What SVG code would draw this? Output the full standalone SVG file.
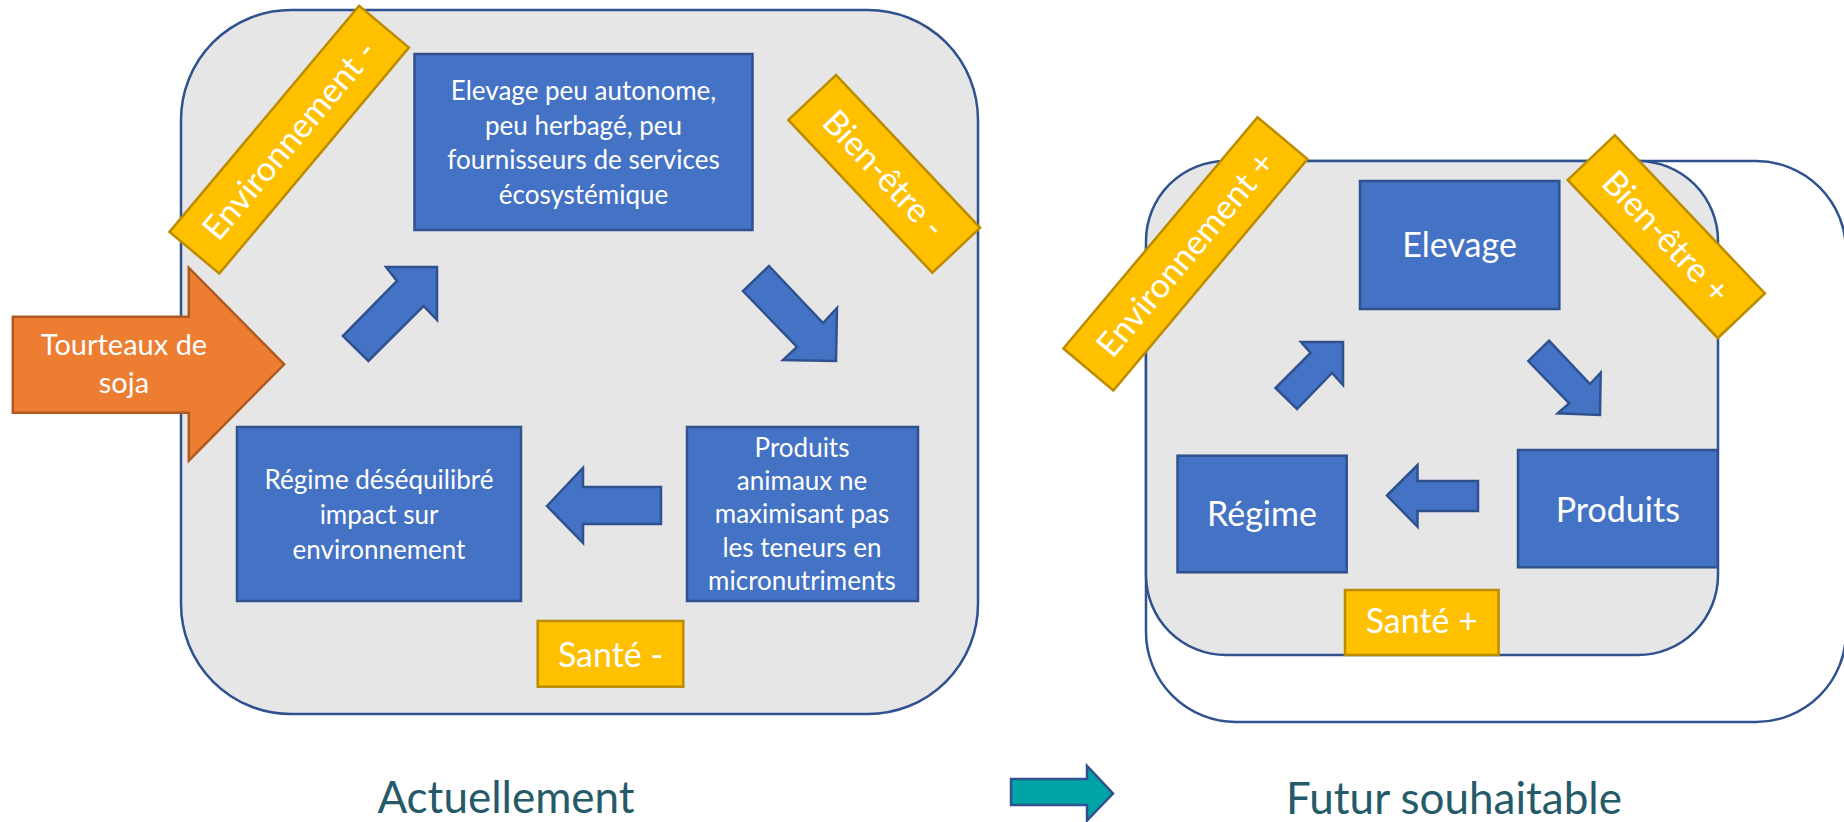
<svg xmlns="http://www.w3.org/2000/svg" width="1844" height="822" viewBox="0 0 1844 822">
<style>
.bg{fill:#E7E6E6;stroke:#2F528F;stroke-width:2.5}
.outer{fill:#FFFFFF;stroke:#2F528F;stroke-width:2.5}
.box{fill:#4472C4;stroke:#2F528F;stroke-width:2.5}
.ban{fill:#FFC000;stroke:#BC8C00;stroke-width:2.5}
.arr{fill:#4472C4;stroke:#2F528F;stroke-width:2.5;stroke-linejoin:miter}
.orange{fill:#ED7D31;stroke:#AE5A21;stroke-width:2.5}
.teal{fill:#00A3A6;stroke:#2F528F;stroke-width:2.5}
text{font-family:Lato,"Liberation Sans",sans-serif;fill:#FFFFFF;text-anchor:middle}
.t26{font-size:26px}
.t29{font-size:29px}
.t34{font-size:34px}
.t44{font-size:44px;fill:#255A68}
</style>

<g id="cadre-actuel">
  <rect class="bg" x="181" y="10" width="797" height="704" rx="110" ry="110"/>
</g>

<g id="cadre-futur">
  <rect class="outer" x="1146" y="161" width="700" height="561" rx="90" ry="90"/>
  <rect class="bg" x="1146" y="161" width="572" height="494" rx="80" ry="80"/>
</g>

<g id="elevage-actuel">
  <rect class="box" x="414.5" y="54" width="338" height="176"/>
  <text class="t26" x="583.5" y="100">Elevage peu autonome,</text>
  <text class="t26" x="583.5" y="134.5">peu herbagé, peu</text>
  <text class="t26" x="583.5" y="169">fournisseurs de services</text>
  <text class="t26" x="583.5" y="203.5">écosystémique</text>
</g>

<g id="regime-actuel">
  <rect class="box" x="237" y="427" width="284" height="174"/>
  <text class="t26" x="379" y="489">Régime déséquilibré</text>
  <text class="t26" x="379" y="524">impact sur</text>
  <text class="t26" x="379" y="559">environnement</text>
</g>

<g id="produits-actuel">
  <rect class="box" x="687" y="427" width="231" height="174"/>
  <text class="t26" x="802" y="456.7">Produits</text>
  <text class="t26" x="802" y="490">animaux ne</text>
  <text class="t26" x="802" y="523.3">maximisant pas</text>
  <text class="t26" x="802" y="556.7">les teneurs en</text>
  <text class="t26" x="802" y="590">micronutriments</text>
</g>

<g id="environnement-moins" transform="translate(289.2,139.7) rotate(-50)">
  <rect class="ban" x="-147.5" y="-32.5" width="295" height="65"/>
  <text class="t34" x="0" y="12">Environnement -</text>
</g>

<g id="bien-etre-moins" transform="translate(884.2,173.9) rotate(46.7)">
  <rect class="ban" x="-105" y="-32.8" width="210" height="65.6"/>
  <text class="t34" x="0" y="12">Bien-être -</text>
</g>

<g id="sante-moins">
  <rect class="ban" x="537.7" y="621" width="145.6" height="65.7"/>
  <text class="t34" x="610.5" y="666.5">Santé -</text>
</g>

<g id="tourteaux-soja">
  <polygon class="orange" points="12.8,316.7 188.8,316.7 188.8,267.7 284.2,364.3 188.8,460.7 188.8,412.7 12.8,412.7"/>
  <text class="t29" x="124" y="355">Tourteaux de</text>
  <text class="t29" x="124" y="393">soja</text>
</g>

<g id="elevage-futur">
  <rect class="box" x="1360" y="181" width="199.3" height="128"/>
  <text class="t34" x="1459.6" y="256.7">Elevage</text>
</g>

<g id="regime-futur">
  <rect class="box" x="1177.5" y="455.7" width="169.2" height="116.6"/>
  <text class="t34" x="1262" y="526">Régime</text>
</g>

<g id="produits-futur">
  <rect class="box" x="1518" y="450" width="199.7" height="117.3"/>
  <text class="t34" x="1617.8" y="521.7">Produits</text>
</g>

<g id="environnement-plus" transform="translate(1185.4,253.8) rotate(-50)">
  <rect class="ban" x="-151" y="-32.6" width="302" height="65.3"/>
  <text class="t34" x="0" y="12">Environnement +</text>
</g>

<g id="bien-etre-plus" transform="translate(1666.3,236.7) rotate(46.5)">
  <rect class="ban" x="-109" y="-32.5" width="218" height="65"/>
  <text class="t34" x="0" y="12">Bien-être +</text>
</g>

<g id="sante-plus">
  <rect class="ban" x="1345" y="590" width="153.6" height="65"/>
  <text class="t34" x="1421.8" y="633">Santé +</text>
</g>

<g id="connectors">
  <polygon class="arr" points="386,267 437,267 437,320 423.5,306 368.4,361 342.9,336 397,281"/>
  <polygon class="arr" points="769,266 823,323 837,308 836,361 783,360 797,347 743,291"/>
  <polygon class="arr" points="547,506 583,468 583,487 661,487 661,524 583,524 583,543"/>
  <polygon class="arr" points="1301,342 1343,342 1343,385 1332,373 1297,409 1275.5,388 1310.6,353"/>
  <polygon class="arr" points="1549,340.7 1590,384 1600.7,372.7 1600,415 1557.7,413.3 1569.3,403.3 1528.3,361"/>
  <polygon class="arr" points="1387,495.5 1417.5,465 1417.5,481 1478,481 1478,511 1417.5,511 1417.5,526.7"/>
  <polygon class="teal" points="1011,779 1087,779 1087,766 1113,793.5 1087,820.5 1087,805 1011,805"/>
</g>

<g id="legendes">
  <text class="t44" x="506" y="813">Actuellement</text>
  <text class="t44" x="1454" y="814">Futur souhaitable</text>
</g>
</svg>
